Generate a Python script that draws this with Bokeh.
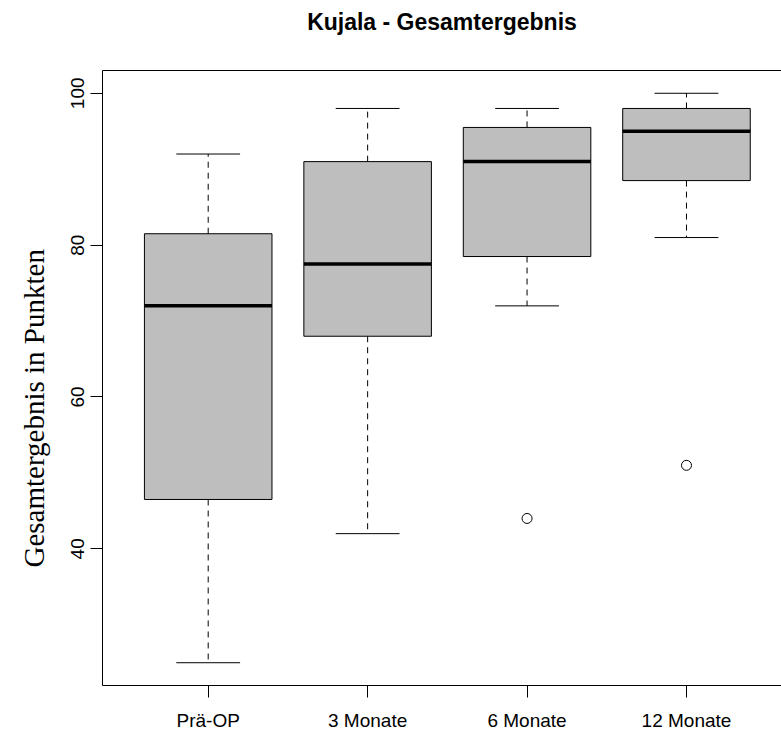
from bokeh.embed import file_html
from bokeh.models import FixedTicker, LinearAxis, Range1d, Title
from bokeh.plotting import figure
from bokeh.resources import INLINE

# Kujala score, summary of each follow-up time point
groups = ["Prä-OP", "3 Monate", "6 Monate", "12 Monate"]
positions = [1, 2, 3, 4]
whisker_low = [25, 42, 72, 81]
q1 = [46.5, 68, 78.5, 88.5]
median = [72, 77.5, 91, 95]
q3 = [81.5, 91, 95.5, 98]
whisker_high = [92, 98, 98, 100]
outlier_pos = [3, 4]
outlier_val = [44, 51]
y_ticks = [40, 60, 80, 100]

BOX_W = 0.8
CAP_W = 0.4

p = figure(
    width=781,
    height=733,
    output_backend="svg",
    toolbar_location=None,
    x_range=Range1d(0.337, 4.596),
    y_range=Range1d(22, 103),
    min_border_left=102,
    min_border_right=0,
    min_border_top=70,
    min_border_bottom=48,
    x_axis_type=None,
    y_axis_type=None,
)
p.outline_line_color = None
p.xgrid.visible = False
p.ygrid.visible = False
p.background_fill_color = "white"
p.border_fill_color = "white"

# boxes
p.vbar(x=positions, width=BOX_W, bottom=q1, top=q3,
       fill_color="#BEBEBE", line_color="black", line_width=1)

# whiskers (dashed) and caps
p.segment(x0=positions, y0=q3, x1=positions, y1=whisker_high,
          line_color="black", line_width=1, line_dash="6 5")
p.segment(x0=positions, y0=q1, x1=positions, y1=whisker_low,
          line_color="black", line_width=1, line_dash="6 5")
cap_l = [x - CAP_W / 2 for x in positions]
cap_r = [x + CAP_W / 2 for x in positions]
p.segment(x0=cap_l, y0=whisker_high, x1=cap_r, y1=whisker_high,
          line_color="black", line_width=1)
p.segment(x0=cap_l, y0=whisker_low, x1=cap_r, y1=whisker_low,
          line_color="black", line_width=1)

# medians
box_l = [x - BOX_W / 2 for x in positions]
box_r = [x + BOX_W / 2 for x in positions]
p.segment(x0=box_l, y0=median, x1=box_r, y1=median,
          line_color="black", line_width=3.5)

# outliers
p.scatter(x=outlier_pos, y=outlier_val, marker="circle", size=10,
          fill_color=None, line_color="black", line_width=1)

# axes
xaxis = LinearAxis(ticker=FixedTicker(ticks=positions))
xaxis.major_label_overrides = {pos: lab for pos, lab in zip(positions, groups)}
yaxis = LinearAxis(ticker=FixedTicker(ticks=y_ticks))
for ax in (xaxis, yaxis):
    ax.major_label_text_font = "Liberation Sans"
    ax.major_label_text_font_size = "19px"
    ax.major_label_text_color = "black"
    ax.axis_line_color = "black"
    ax.major_tick_line_color = "black"
    ax.major_tick_out = 12
    ax.major_tick_in = 0
    ax.minor_tick_line_color = None
xaxis.major_label_standoff = 12
yaxis.major_label_standoff = 6
yaxis.major_label_orientation = "vertical"
p.add_layout(xaxis, "below")
p.add_layout(yaxis, "left")

# top edge of the plotting frame; its label carries the chart title
top_edge = LinearAxis(ticker=FixedTicker(ticks=[]))
top_edge.axis_line_color = "black"
top_edge.major_tick_line_color = None
top_edge.minor_tick_line_color = None
top_edge.major_tick_out = 0
top_edge.major_tick_in = 0
top_edge.axis_label = "Kujala - Gesamtergebnis"
top_edge.axis_label_text_font = "Liberation Sans"
top_edge.axis_label_text_font_style = "bold"
top_edge.axis_label_text_font_size = "23px"
top_edge.axis_label_text_color = "black"
top_edge.axis_label_standoff = 36
p.add_layout(top_edge, "above")

# y axis title
ylab = Title(text="Gesamtergebnis in Punkten", align="left",
             vertical_align="top", text_color="black",
             text_font="Liberation Serif", text_font_style="normal",
             text_font_size="29px", standoff=34, offset=118)
p.add_layout(ylab, "left")

open("out.html", "w").write(file_html(p, INLINE))
